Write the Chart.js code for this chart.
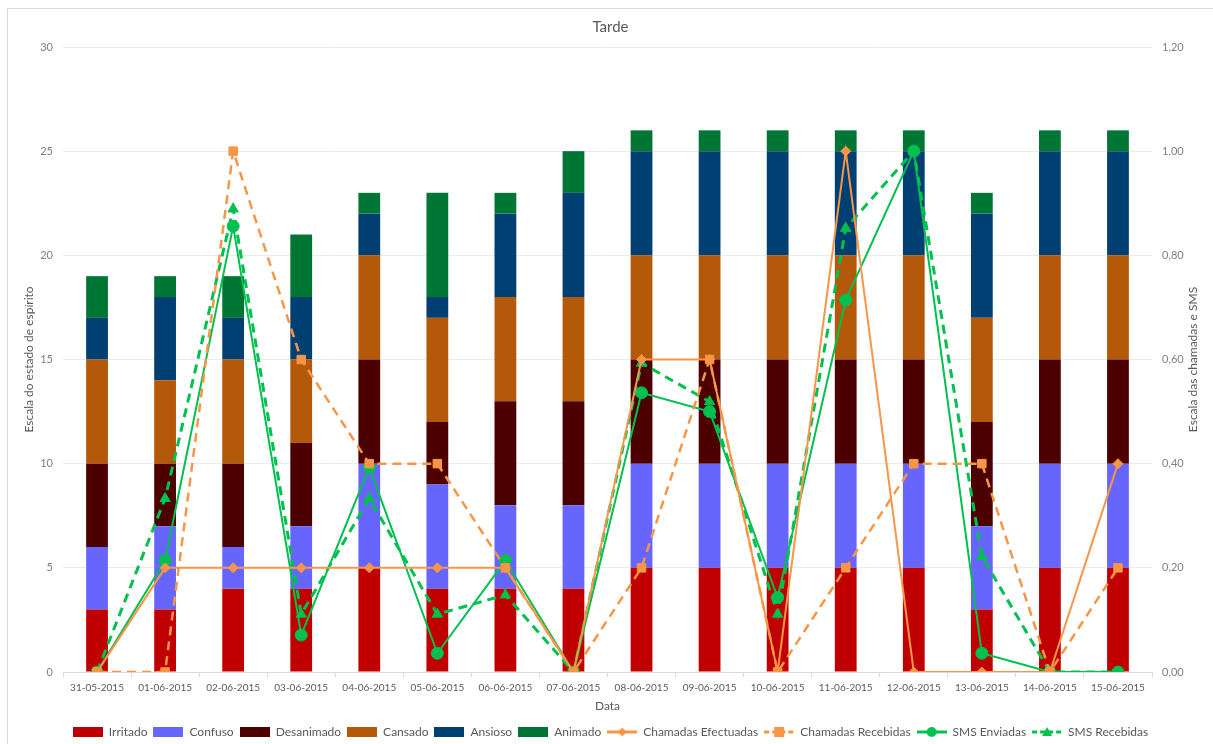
<!DOCTYPE html>
<html>
<head>
<meta charset="utf-8">
<script src="https://cdn.jsdelivr.net/npm/chart.js@4/dist/chart.umd.min.js"></script>
<style>
  html, body { margin: 0; padding: 0; background: #ffffff; overflow: hidden; }
  #frame { position: absolute; left: 7px; top: 8px; width: 1230px; height: 760px; border: 1px solid #d9d9d9; box-sizing: border-box; }
  #wrap { position: absolute; left: 0; top: 0; width: 1213px; height: 744px; }
</style>
</head>
<body>
<div id="frame"></div>
<div id="wrap"><canvas id="c" width="1213" height="744"></canvas></div>
<script>
const categories = ['31-05-2015','01-06-2015','02-06-2015','03-06-2015','04-06-2015','05-06-2015','06-06-2015','07-06-2015','08-06-2015','09-06-2015','10-06-2015','11-06-2015','12-06-2015','13-06-2015','14-06-2015','15-06-2015'];

const irritado   = [3,3,4,4,5,4,4,4,5,5,5,5,5,3,5,5];
const confuso    = [3,4,2,3,5,5,4,4,5,5,5,5,5,4,5,5];
const desanimado = [4,3,4,4,5,3,5,5,5,5,5,5,5,5,5,5];
const cansado    = [5,4,5,4,5,5,5,5,5,5,5,5,5,5,5,5];
const ansioso    = [2,4,2,3,2,1,4,5,5,5,5,5,5,5,5,5];
const animado    = [2,1,2,3,1,5,1,2,1,1,1,1,1,1,1,1];

const chamadasEfectuadas = [0,0.2,0.2,0.2,0.2,0.2,0.2,0,0.6,0.6,0,1.0,0,0,0,0.4];
const chamadasRecebidas  = [0,0,1.0,0.6,0.4,0.4,0.2,0,0.2,0.6,0,0.2,0.4,0.4,0,0.2];
const smsEnviadas        = [0,0.214,0.856,0.071,0.393,0.036,0.214,0,0.536,0.50,0.143,0.714,1.0,0.036,0,0];
const smsRecebidas       = [0,0.333,0.889,0.111,0.333,0.111,0.148,0,0.593,0.519,0.111,0.852,1.0,0.222,0,0];

const leftTicks = [0,5,10,15,20,25,30];
const rightTicks = [0,0.2,0.4,0.6,0.8,1.0,1.2];

const ORANGE = '#F79646';
const GREEN = '#00C050';
const TEXT = '#595959';
const FONT = 'Lato, "Open Sans", sans-serif';

function barDs(label, data, color) {
  return { type: 'bar', label, data, backgroundColor: color, borderWidth: 0,
           yAxisID: 'y', stack: 's', order: 2, barPercentage: 0.32, categoryPercentage: 1.0 };
}
function lineDs(label, data, color, style, radius, dashed, width) {
  return { type: 'line', label, data, borderColor: color, backgroundColor: color,
           pointBackgroundColor: color, pointBorderColor: color, pointBorderWidth: 1,
           pointStyle: style, pointRadius: radius, pointHoverRadius: radius,
           borderWidth: width, borderDash: dashed ? [9, 6] : [], fill: false, tension: 0,
           yAxisID: 'y1', order: 1, _dashed: dashed, _style: style };
}

const datasets = [
  barDs('Irritado', irritado, '#C00000'),
  barDs('Confuso', confuso, '#6666FF'),
  barDs('Desanimado', desanimado, '#4D0000'),
  barDs('Cansado', cansado, '#B4580A'),
  barDs('Ansioso', ansioso, '#003F72'),
  barDs('Animado', animado, '#007635'),
  lineDs('Chamadas Efectuadas', chamadasEfectuadas, ORANGE, 'rectRot', 5, false, 2),
  lineDs('Chamadas Recebidas', chamadasRecebidas, ORANGE, 'rect', 6, true, 2.5),
  lineDs('SMS Enviadas', smsEnviadas, GREEN, 'circle', 6, false, 2),
  lineDs('SMS Recebidas', smsRecebidas, GREEN, 'triangle', 6, true, 3)
];

function makeIcon(ds) {
  const c = document.createElement('canvas');
  c.width = 30; c.height = 14;
  const g = c.getContext('2d');
  g.fillStyle = ds.backgroundColor;
  g.strokeStyle = ds.borderColor || ds.backgroundColor;
  if (ds.type === 'bar') {
    g.fillRect(0, 2, 30, 10);
  } else {
    g.lineWidth = 3;
    if (ds._dashed) g.setLineDash([5, 3]);
    g.beginPath(); g.moveTo(0, 7); g.lineTo(30, 7); g.stroke();
    g.setLineDash([]);
    g.beginPath();
    const cx = 15, cy = 7;
    if (ds._style === 'rectRot') { g.moveTo(cx, cy-4.5); g.lineTo(cx+4.5, cy); g.lineTo(cx, cy+4.5); g.lineTo(cx-4.5, cy); g.closePath(); }
    else if (ds._style === 'rect') { g.rect(cx-5, cy-5, 10, 10); }
    else if (ds._style === 'circle') { g.arc(cx, cy, 5, 0, Math.PI*2); }
    else { g.moveTo(cx, cy-5); g.lineTo(cx+5, cy+4); g.lineTo(cx-5, cy+4); g.closePath(); }
    g.fill();
  }
  return c;
}

const rightTitle = {
  id: 'rightTitle',
  afterLayout(chart) {
    if (chart.legend) { chart.legend.top += 4; chart.legend.bottom += 4; }
  },
  afterDraw(chart) {
    const ctx = chart.ctx, a = chart.chartArea;
    ctx.save();
    ctx.translate(1193, (a.top + a.bottom) / 2);
    ctx.rotate(-Math.PI / 2);
    ctx.font = '12px ' + FONT;
    ctx.fillStyle = TEXT;
    ctx.textAlign = 'center';
    ctx.textBaseline = 'middle';
    ctx.fillText('Escala das chamadas e SMS', 0, 0);
    ctx.restore();
  }
};

new Chart(document.getElementById('c'), {
  data: { labels: categories, datasets },
  plugins: [rightTitle],
  options: {
    responsive: false,
    animation: false,
    devicePixelRatio: 1,
    layout: { padding: { left: 8, right: 0, top: 0, bottom: 0 } },
    plugins: {
      tooltip: { enabled: false },
      title: { display: true, text: 'Tarde', color: TEXT, font: { family: FONT, size: 15, weight: 'normal' },
               padding: { top: 18, bottom: 11 } },
      legend: {
        position: 'bottom',
        labels: {
          usePointStyle: true, pointStyleWidth: 30, boxHeight: 12,
          padding: 6, color: TEXT, font: { family: FONT, size: 12 },
          generateLabels(chart) {
            return chart.data.datasets.map((ds, i) => ({
              text: ds.label, pointStyle: makeIcon(ds), datasetIndex: i,
              fillStyle: ds.backgroundColor, strokeStyle: ds.backgroundColor, lineWidth: 0,
              fontColor: TEXT, hidden: false
            }));
          },
          sort: (a, b) => a.datasetIndex - b.datasetIndex
        }
      }
    },
    scales: {
      x: {
        stacked: true,
        offset: true,
        grid: { display: true, offset: true, drawOnChartArea: false, drawTicks: true, tickLength: 5, color: '#d9d9d9' },
        border: { display: true, color: '#d9d9d9' },
        ticks: { color: TEXT, font: { family: FONT, size: 10 }, maxRotation: 0, minRotation: 0, autoSkip: false, padding: 5 },
        title: { display: true, text: 'Data', color: TEXT, font: { family: FONT, size: 12 }, padding: { top: 1, bottom: 3 } },
        afterFit(scale) { scale.height = 44; }
      },
      y: {
        position: 'left', stacked: true, min: 0, max: 30,
        afterBuildTicks(scale) { scale.ticks = leftTicks.map(v => ({ value: v })); },
        grid: { color: '#ebebeb', drawTicks: false, lineWidth: 1 },
        border: { display: false },
        ticks: { color: '#7f7f7f', font: { family: FONT, size: 11 }, padding: 10 },
        title: { display: true, text: 'Escala do estado de espírito', color: TEXT, font: { family: FONT, size: 12 }, padding: { top: 14, bottom: 0 } },
        afterFit(scale) { scale.width = 55; }
      },
      y1: {
        position: 'right', stacked: false, min: 0, max: 1.2,
        afterBuildTicks(scale) { scale.ticks = rightTicks.map(v => ({ value: v })); },
        grid: { drawOnChartArea: false, drawTicks: false },
        border: { display: false },
        ticks: { color: '#7f7f7f', font: { family: FONT, size: 11 }, padding: 10,
                 callback: v => Number(v).toFixed(2).replace('.', ',') },
        afterFit(scale) { scale.width = 61; }
      }
    }
  }
});
</script>
</body>
</html>
